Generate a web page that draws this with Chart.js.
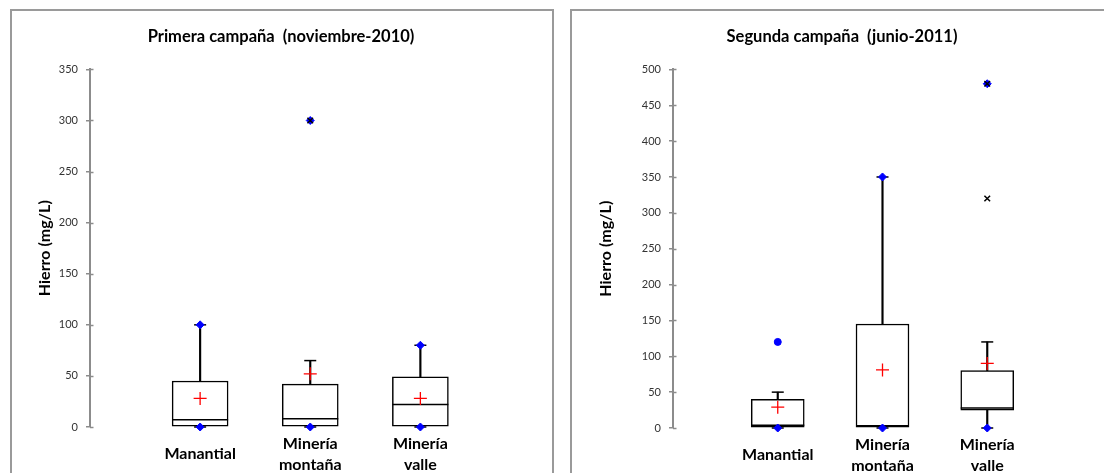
<!DOCTYPE html>
<html><head><meta charset="utf-8">
<script src="https://cdn.jsdelivr.net/npm/chart.js@4"></script>
<style>
html,body{margin:0;padding:0;background:#fff;overflow:hidden;width:1104px;height:473px;position:relative;}
.frame{position:absolute;top:9px;width:540px;height:520px;border:2px solid #9a9a9a;}
#f1{left:10px} #f2{left:570px}
.cw{position:absolute;top:0;width:560px;height:480px;}
#w1{left:0} #w2{left:560px}
</style></head><body>
<div class="frame" id="f1"></div><div class="frame" id="f2"></div>
<div class="cw" id="w1"><canvas id="c1" width="560" height="480"></canvas></div>
<div class="cw" id="w2"><canvas id="c2" width="560" height="480"></canvas></div>
<script>
// ---- data ----
const categories = ['Manantial', 'Minería montaña', 'Minería valle'];

// Primera campaña (noviembre-2010)
const p1Title = 'Primera campaña  (noviembre-2010)';
const p1YMax = 350;
const p1Min = [0, 0, 0];
const p1Q1 = [0, 0, 0];
const p1Median = [7, 8, 22];
const p1Q3 = [45, 42, 49];
const p1WhiskerLow = [0, 0, 0];
const p1WhiskerHigh = [100, 65, 80];
const p1Mean = [28, 52, 28];
const p1Max = [100, 300, 80];
const p1Outliers = [[], [300], []];

// Segunda campaña (junio-2011)
const p2Title = 'Segunda campaña  (junio-2011)';
const p2YMax = 500;
const p2Min = [0, 0, 0];
const p2Q1 = [0, 0, 25];
const p2Median = [4, 3, 28];
const p2Q3 = [40, 145, 80];
const p2WhiskerLow = [0, 0, 0];
const p2WhiskerHigh = [50, 350, 120];
const p2Mean = [29, 81, 90];
const p2Max = [120, 350, 480];
const p2Outliers = [[], [], [320, 480]];

const yTitle = 'Hierro (mg/L)';
const tickStep = 50;

// ---- chart building ----
const innerTicks = {
  id: 'innerTicks',
  afterDraw(chart) {
    const y = chart.scales.y, ctx = chart.ctx, x0 = chart.chartArea.left;
    ctx.save();
    ctx.strokeStyle = '#8c8c8c';
    ctx.lineWidth = 1.5;
    y.ticks.forEach(t => {
      const py = Math.round(y.getPixelForValue(t.value)) + 0.5;
      ctx.beginPath(); ctx.moveTo(x0, py); ctx.lineTo(x0 + 3.5, py); ctx.stroke();
    });
    ctx.restore();
  }
};

function pts(arr) { return arr.map((v, i) => ({x: i + 1, y: v})); }

function build(id, s, g) {
  const outl = [];
  s.outliers.forEach((list, i) => list.forEach(v => outl.push({x: i + 1, y: v})));
  const datasets = [
    {type: 'scatter', data: outl, pointStyle: 'crossRot', radius: 4, borderColor: '#000', borderWidth: 1.5, order: 0, clip: false},
    {type: 'scatter', data: pts(s.max), pointStyle: g.maxStyles, radius: g.maxRadius, backgroundColor: '#0000ff', borderColor: '#0000ff', borderWidth: 1, order: 1, clip: false},
    {type: 'scatter', data: pts(s.min), pointStyle: 'rectRot', radius: 4, backgroundColor: '#0000ff', borderColor: '#0000ff', borderWidth: 1, order: 1, clip: false},
    {type: 'scatter', data: pts(s.mean), pointStyle: 'cross', radius: 6.5, borderColor: '#ff0000', borderWidth: 1.3, order: 2, clip: false},
    {type: 'scatter', data: pts(s.median), pointStyle: 'line', radius: g.box / 2, borderColor: '#000', borderWidth: 1.5, order: 3, clip: false},
    {type: 'scatter', data: pts(s.whiskerHigh), pointStyle: 'line', radius: 6, borderColor: '#000', borderWidth: 1.5, order: 3, clip: false},
    {type: 'scatter', data: pts(s.whiskerLow), pointStyle: 'line', radius: 6, borderColor: '#000', borderWidth: 1.5, order: 3, clip: false},
    {type: 'bar', data: s.q3.map((v, i) => ({x: i + 1, y: [v, s.whiskerHigh[i]]})), backgroundColor: '#000', borderWidth: 0, barThickness: 1.5, grouped: false, order: 4, clip: false},
    {type: 'bar', data: s.q1.map((v, i) => ({x: i + 1, y: [s.whiskerLow[i], v]})), backgroundColor: '#000', borderWidth: 0, barThickness: 1.5, grouped: false, order: 4, clip: false},
    {type: 'bar', data: s.q1.map((v, i) => ({x: i + 1, y: [v, s.q3[i]]})), backgroundColor: '#fff', borderColor: '#000', borderWidth: 1.5, borderSkipped: false, barThickness: g.box, grouped: false, order: 5, clip: false}
  ];
  return new Chart(document.getElementById(id), {
    type: 'bar',
    data: {datasets},
    plugins: [innerTicks],
    options: {
      responsive: false, animation: false, events: [],
      layout: {padding: {left: g.padLeft, right: g.padRight, top: 0, bottom: 0}},
      plugins: {
        legend: {display: false}, tooltip: {enabled: false},
        title: {display: true, text: s.title, color: '#000', font: {family: 'Lato', size: 16.5, weight: 'bold'}, padding: {top: 27, bottom: 22.6}}
      },
      scales: {
        x: {
          type: 'linear', min: 0, max: categories.length + 1, offset: false,
          grid: {display: false, drawTicks: false}, border: {display: false},
          afterFit: sc => { sc.height = 480 - g.bottom; },
          ticks: {
            stepSize: 1, autoSkip: false, maxRotation: 0, padding: 16.5, crossAlign: 'center',
            color: '#000', font: {family: 'Lato', size: 16, weight: 'bold', lineHeight: 1.35},
            callback: v => (Number.isInteger(v) && categories[v - 1]) ? categories[v - 1].split(' ') : ''
          }
        },
        y: {
          min: 0, max: s.yMax,
          afterFit: sc => { sc.width = g.axisX - g.padLeft; },
          border: {display: true, color: '#8c8c8c', width: 2},
          grid: {drawOnChartArea: false, drawTicks: true, tickLength: 4, color: '#8c8c8c', lineWidth: 1.5},
          ticks: {stepSize: tickStep, padding: 8, color: '#333', font: {family: 'Lato', size: 11}},
          title: {display: true, text: yTitle, color: '#000', font: {family: 'Lato', size: 16, weight: 'bold'}, padding: {top: g.yTitleX - g.padLeft, bottom: 0}}
        }
      }
    }
  });
}

build('c1', {title: p1Title, yMax: p1YMax, min: p1Min, q1: p1Q1, median: p1Median, q3: p1Q3, whiskerLow: p1WhiskerLow, whiskerHigh: p1WhiskerHigh, mean: p1Mean, max: p1Max, outliers: p1Outliers},
  {axisX: 90, padLeft: 29, padRight: 27, bottom: 427, box: 56, yTitleX: 35, maxStyles: ['rectRot', 'rectRot', 'rectRot'], maxRadius: [4, 4, 4]});
build('c2', {title: p2Title, yMax: p2YMax, min: p2Min, q1: p2Q1, median: p2Median, q3: p2Q3, whiskerLow: p2WhiskerLow, whiskerHigh: p2WhiskerHigh, mean: p2Mean, max: p2Max, outliers: p2Outliers},
  {axisX: 113, padLeft: 30.5, padRight: 26.5, bottom: 428, box: 53, yTitleX: 36.5, maxStyles: ['circle', 'rectRot', 'rectRot'], maxRadius: [3.5, 4, 4]});
</script>
</body></html>
